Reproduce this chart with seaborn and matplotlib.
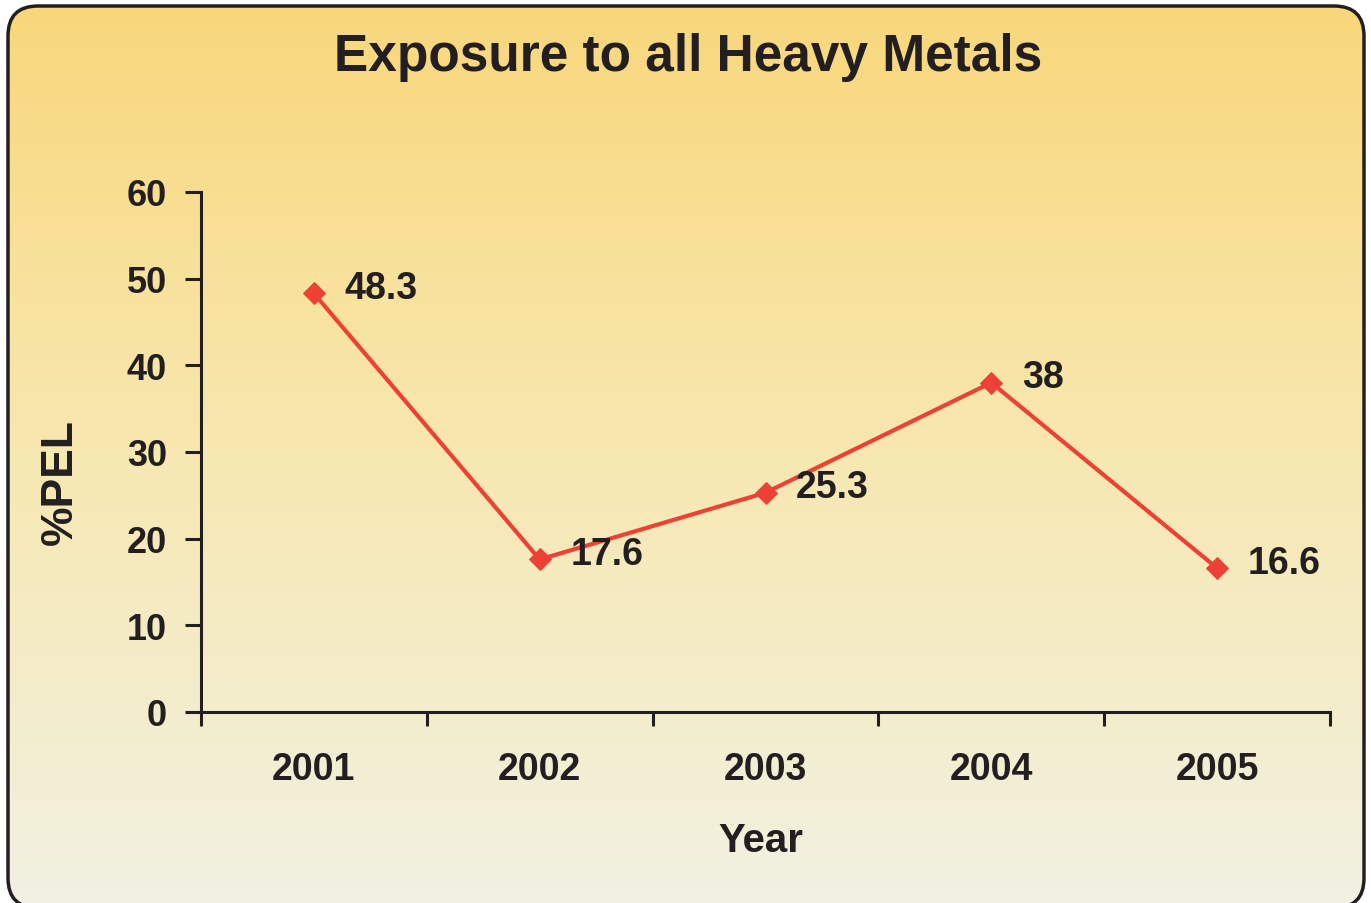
import numpy as np
import pandas as pd
import matplotlib
matplotlib.use('Agg')
import matplotlib.pyplot as plt
import seaborn as sns
from matplotlib.patches import FancyBboxPatch
from matplotlib.colors import LinearSegmentedColormap

# data
years = ['2001', '2002', '2003', '2004', '2005']
pel = [48.3, 17.6, 25.3, 38, 16.6]
point_labels = ['48.3', '17.6', '25.3', '38', '16.6']
y_ticks = [0, 10, 20, 30, 40, 50, 60]

ink = '#231F20'
red = '#EE4136'

sns.set_style('ticks')
plt.rcParams['font.family'] = ['Liberation Sans', 'DejaVu Sans']
plt.rcParams['font.weight'] = 'bold'

W, H = 1371, 904
fig = plt.figure(figsize=(W / 100, H / 100), dpi=100)
fig.patch.set_facecolor('white')

# background panel: rounded box with a vertical gradient (pixel coords, y up)
bg = fig.add_axes([0, 0, 1, 1])
bg.set_xlim(0, W)
bg.set_ylim(0, H)
bg.axis('off')
grad_cmap = LinearSegmentedColormap.from_list(
    'bg', [(0, '#F9D77B'), (0.5, '#F7E8B1'), (1, '#F1F1E3')])
grad = np.linspace(0, 1, 256).reshape(-1, 1)
box = FancyBboxPatch((8, -5), 1356, 902, boxstyle='round,pad=0,rounding_size=30',
                     fc='none', ec=ink, lw=2.5, zorder=3)
im = bg.imshow(grad, cmap=grad_cmap, extent=(8, 1364, -5, 897), aspect='auto',
               origin='upper')
bg.add_patch(box)
im.set_clip_path(box)

# main plot area
ax = fig.add_axes([201 / W, 1 - 713 / H, (1330 - 201) / W, (713 - 193) / H])
ax.patch.set_alpha(0)

df = pd.DataFrame({'Year': years, 'PEL': pel})
sns.lineplot(data=df, x='Year', y='PEL', ax=ax, color=red, lw=3, marker='D',
             markersize=11, markeredgecolor=red, sort=False)

for i, (v, t) in enumerate(zip(pel, point_labels)):
    ax.annotate(t, (i, v), xytext=(22, 4), textcoords='offset points',
                ha='left', va='center', fontsize=27, fontweight='bold', color=ink)

ax.set_xlim(-0.5, 4.5)
ax.set_ylim(0, 60)
ax.set_yticks(y_ticks)
ax.set_xticks(range(len(years)))
ax.set_xticklabels(years)
ax.set_xticks(np.arange(-0.5, len(years), 1), minor=True)
ax.tick_params(axis='x', which='major', length=0, pad=28, labelsize=27, labelcolor=ink)
ax.tick_params(axis='x', which='minor', length=10, width=2.2, color=ink)
ax.tick_params(axis='y', length=11.5, width=2.2, pad=13, labelsize=26,
               color=ink, labelcolor=ink)
for s in ['top', 'right']:
    ax.spines[s].set_visible(False)
for s in ['left', 'bottom']:
    ax.spines[s].set_linewidth(2.2)
    ax.spines[s].set_color(ink)
ax.set_xlabel('')
ax.set_ylabel('')

fig.text(688 / W, 1 - 58 / H, 'Exposure to all Heavy Metals', ha='center', va='center',
         fontsize=37, fontweight='bold', color=ink)
fig.text(761 / W, 1 - 841 / H, 'Year', ha='center', va='center',
         fontsize=29, fontweight='bold', color=ink)
fig.text(60 / W, 1 - 482 / H, '%PEL', ha='center', va='center', rotation=90,
         fontsize=32, fontweight='bold', color=ink)

fig.savefig('out.png', dpi=100)
